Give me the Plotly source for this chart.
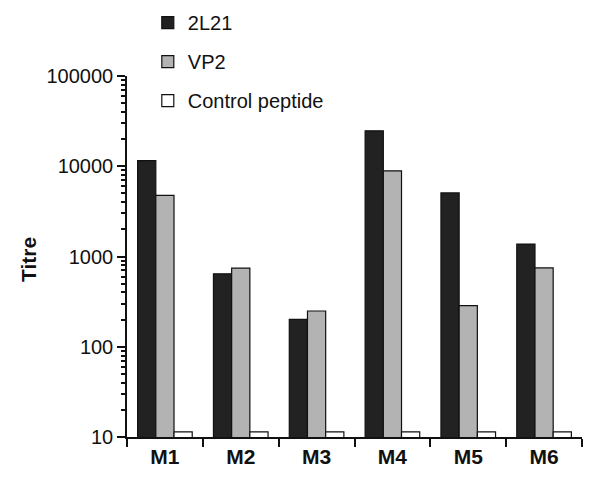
import plotly.graph_objects as go

categories = ["M1", "M2", "M3", "M4", "M5", "M6"]
s_2l21 = [11560, 643, 201, 24700, 5060, 1374]
s_vp2 = [4760, 743, 249, 8890, 286, 748]
s_control = [11.4, 11.4, 11.4, 11.4, 11.4, 11.4]
y_ticks = [10, 100, 1000, 10000, 100000]
y_ticklabels = ["10", "100", "1000", "10000", "100000"]

FONT = "Liberation Sans, Arial, sans-serif"

fig = go.Figure()
for name, vals, col, grp in [("2L21", s_2l21, "#222222", "a"),
                             ("VP2", s_vp2, "#b3b3b3", "b"),
                             ("Control peptide", s_control, "#ffffff", "c")]:
    fig.add_trace(go.Bar(x=categories, y=vals, name=name, legendgroup=grp,
                         marker=dict(color=col, line=dict(color="#111111", width=1.2))))

fig.update_layout(
    width=600, height=484,
    margin=dict(l=119, r=26, t=68, b=55, autoexpand=False),
    plot_bgcolor="white", paper_bgcolor="white",
    barmode="group", bargap=0.28, bargroupgap=0,
    font=dict(family=FONT, size=20, color="#111111"),
    legend=dict(x=0.233, y=1.202, xref="container", yref="paper",
                xanchor="left", yanchor="top",
                font=dict(size=20, family=FONT, color="#111111"),
                tracegroupgap=10, bgcolor="rgba(0,0,0,0)"),
    xaxis=dict(showline=True, linecolor="#111111", linewidth=1.5, automargin=False,
               ticks="outside", tickson="boundaries", ticklen=8, tickcolor="#111111",
               tickwidth=1.5, tickfont=dict(size=21, family=FONT, weight="bold"),
               showgrid=False, zeroline=False),
    yaxis=dict(type="log", range=[1, 5], showline=True, linecolor="#111111", linewidth=1.5,
               automargin=False,
               ticks="outside", ticklen=8, tickcolor="#111111", tickwidth=1.5,
               tickvals=y_ticks, ticktext=y_ticklabels, tickfont=dict(size=20),
               minor=dict(ticks="outside", ticklen=4, tickcolor="#111111", dtick="D1", showgrid=False),
               showgrid=False, zeroline=False),
    annotations=[dict(text="<b>Titre</b>", textangle=-90, xref="paper", yref="paper",
                      x=-0.2176, y=0.493, xanchor="center", yanchor="middle",
                      showarrow=False, font=dict(size=21, family=FONT, color="#111111"))],
)

fig.write_html("out.html")
